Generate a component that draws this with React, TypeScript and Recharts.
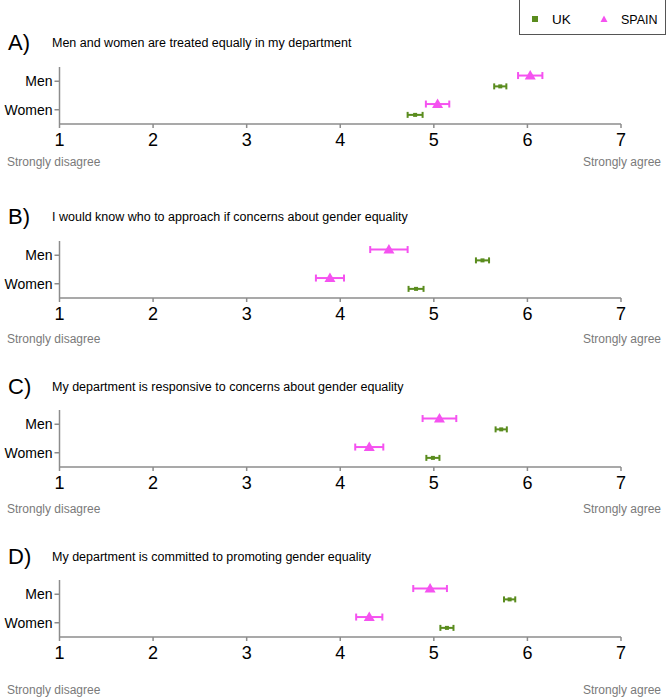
import { ScatterChart, Scatter, XAxis, YAxis, ErrorBar } from 'recharts';

const GREEN = '#5a8c1e';
const PINK = '#f552f0';
const AXIS = '#8c8c8c';
const FONT = '"Liberation Sans", Arial, Helvetica, sans-serif';

// index 0 = Women (bottom row), 1 = Men (top row)
const GROUPS = ['Women', 'Men'];
const PANEL_LETTERS = ['A)', 'B)', 'C)', 'D)'];
const QUESTIONS = [
  'Men and women are treated equally in my department',
  'I would know who to approach if concerns about gender equality',
  'My department is responsive to concerns about gender equality',
  'My department is committed to promoting gender equality',
];
const X_TICKS = [1, 2, 3, 4, 5, 6, 7];

// means and half-width of error bars, one value per panel A-D
const UK_MEN = [5.71, 5.52, 5.72, 5.81];
const UK_MEN_ERR = [0.065, 0.07, 0.06, 0.06];
const UK_WOMEN = [4.8, 4.81, 4.99, 5.14];
const UK_WOMEN_ERR = [0.08, 0.08, 0.07, 0.07];
const SPAIN_MEN = [6.03, 4.52, 5.06, 4.96];
const SPAIN_MEN_ERR = [0.13, 0.2, 0.18, 0.18];
const SPAIN_WOMEN = [5.04, 3.89, 4.31, 4.31];
const SPAIN_WOMEN_ERR = [0.125, 0.15, 0.15, 0.14];

// layout
const AXIS_Y = [124, 298, 467, 637];
const TITLE_Y = [43, 217, 387, 557];
const ANCHOR_Y = [162, 339, 509, 690];
const PLOT_H = 57;
const TOP_PAD = 10;
const X_AXIS_H = 40;
const SPAIN_SHIFT = 0.2;
const UK_SHIFT = -0.18;

function UkMarker(props: any) {
  const { cx, cy } = props;
  if (cx == null || cy == null) return null;
  return <rect x={cx - 2} y={cy - 2} width={4} height={4} fill={GREEN} />;
}

function SpainMarker(props: any) {
  const { cx, cy } = props;
  if (cx == null || cy == null) return null;
  const d = `M ${cx} ${cy - 5.5} L ${cx - 5.5} ${cy + 4} L ${cx + 5.5} ${cy + 4} Z`;
  return <path d={d} fill={PINK} />;
}

function Panel({ i }: { i: number }) {
  const uk = [
    { x: UK_WOMEN[i], y: 0.5 + UK_SHIFT, err: UK_WOMEN_ERR[i] },
    { x: UK_MEN[i], y: 1.5 + UK_SHIFT, err: UK_MEN_ERR[i] },
  ];
  const spain = [
    { x: SPAIN_WOMEN[i], y: 0.5 + SPAIN_SHIFT, err: SPAIN_WOMEN_ERR[i] },
    { x: SPAIN_MEN[i], y: 1.5 + SPAIN_SHIFT, err: SPAIN_MEN_ERR[i] },
  ];
  const top = AXIS_Y[i] - PLOT_H - TOP_PAD;
  return (
    <>
      <div style={{ position: 'absolute', left: 8, top: TITLE_Y[i] - 13, fontSize: 22, lineHeight: '26px' }}>
        {PANEL_LETTERS[i]}
      </div>
      <div style={{ position: 'absolute', left: 52, top: TITLE_Y[i] - 8, fontSize: 12.5, lineHeight: '16px' }}>
        {QUESTIONS[i]}
      </div>
      <div style={{ position: 'absolute', left: 0, top }}>
        <ScatterChart
          width={669}
          height={TOP_PAD + PLOT_H + X_AXIS_H}
          margin={{ top: TOP_PAD, right: 48, bottom: 0, left: 0 }}
        >
          <XAxis
            type="number"
            dataKey="x"
            domain={[1, 7]}
            ticks={X_TICKS}
            height={X_AXIS_H}
            tickSize={4}
            tickMargin={5}
            axisLine={{ stroke: AXIS, strokeWidth: 1.5 }}
            tickLine={{ stroke: AXIS, strokeWidth: 1.5 }}
            tick={{ fill: '#000', fontSize: 18 }}
          />
          <YAxis
            type="number"
            dataKey="y"
            domain={[0, 2]}
            ticks={[0.5, 1.5]}
            tickFormatter={(v) => GROUPS[Math.floor(v)]}
            width={59.5}
            tickSize={5}
            tickMargin={2}
            axisLine={{ stroke: AXIS, strokeWidth: 1.5 }}
            tickLine={{ stroke: AXIS, strokeWidth: 1.5 }}
            tick={{ fill: '#000', fontSize: 14 }}
          />
          <Scatter data={uk} shape={<UkMarker />} isAnimationActive={false} name="UK">
            <ErrorBar dataKey="err" direction="x" width={3} stroke={GREEN} strokeWidth={2} />
          </Scatter>
          <Scatter data={spain} shape={<SpainMarker />} isAnimationActive={false} name="SPAIN">
            <ErrorBar dataKey="err" direction="x" width={3.5} stroke={PINK} strokeWidth={2} />
          </Scatter>
        </ScatterChart>
      </div>
      <div style={{ position: 'absolute', left: 7, top: ANCHOR_Y[i] - 8, fontSize: 12, color: '#7a7a7a', lineHeight: '16px' }}>
        Strongly disagree
      </div>
      <div style={{ position: 'absolute', right: 8, top: ANCHOR_Y[i] - 8, fontSize: 12, color: '#7a7a7a', lineHeight: '16px' }}>
        Strongly agree
      </div>
    </>
  );
}

function LegendBox() {
  return (
    <div
      style={{
        position: 'absolute', left: 519, top: -1, width: 147, height: 36,
        border: '1px solid #555', boxSizing: 'border-box', fontSize: 13,
      }}
    >
      <svg width={147} height={36} style={{ position: 'absolute', left: 0, top: 0 }}>
        <rect x={12} y={16} width={6} height={6} fill={GREEN} />
        <path d="M 84 15.5 L 80.5 22 L 87.5 22 Z" fill={PINK} />
        <text x={32} y={24} fontSize={13.5} fill="#000">UK</text>
        <text x={101} y={24} fontSize={12.5} fill="#000">SPAIN</text>
      </svg>
    </div>
  );
}

export default function App() {
  return (
    <div
      style={{
        position: 'absolute', left: 0, top: 0, width: 669, height: 700,
        background: '#fff', fontFamily: FONT, overflow: 'hidden',
      }}
    >
      <LegendBox />
      {[0, 1, 2, 3].map((i) => (
        <Panel key={i} i={i} />
      ))}
    </div>
  );
}
